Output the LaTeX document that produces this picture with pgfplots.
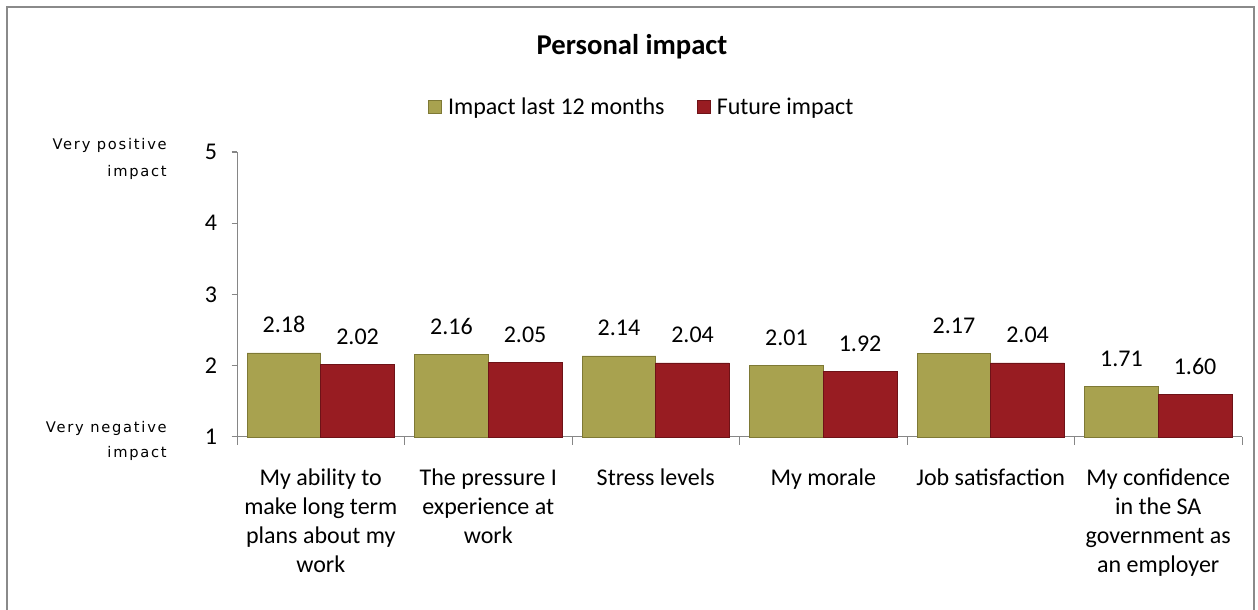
\documentclass[border=0pt]{standalone}
\usepackage{fontspec}
\setmainfont{Carlito}
\newfontfamily\sidefont[LetterSpace=12]{DejaVu Sans}
\usepackage{pgfplots}
\pgfplotsset{compat=1.18}

\definecolor{olivebar}{HTML}{A8A24F}
\definecolor{olivedark}{HTML}{7E7935}
\definecolor{redbar}{HTML}{981C22}
\definecolor{reddark}{HTML}{6E1217}
\definecolor{axisgray}{HTML}{868686}
\definecolor{framegray}{HTML}{8A8A8A}

\begin{document}
\begin{tikzpicture}
% page = 1258 x 610 px at 0.75pt per px
\path[use as bounding box] (0,0) rectangle (943.5pt,457.5pt);
\begin{scope}
\clip (0,0) rectangle (943.5pt,457.5pt);
\draw[framegray, line width=1.5pt] (5.6pt,-3pt) -- (5.6pt,452.6pt) -- (940.5pt,452.6pt) -- (940.5pt,-3pt);
\end{scope}

\node[font=\fontsize{21.5}{25}\selectfont\bfseries] at (474pt,422.25pt) {Personal impact};

\begin{scope}[font=\sidefont\fontsize{11}{13}\selectfont, inner sep=0pt]
\node[anchor=base east] at (125.25pt,345pt) {Very positive};
\node[anchor=base east] at (125.25pt,324.75pt) {impact};
\node[anchor=base east] at (125.25pt,132.75pt) {Very negative};
\node[anchor=base east] at (125.25pt,114pt) {impact};
\end{scope}

\begin{axis}[
  at={(177.75pt,129.75pt)}, anchor=south west,
  scale only axis,
  width=753.75pt, height=213.75pt,
  ybar=0pt,
  bar width=0.44,
  xmin=-0.5, xmax=5.5,
  ymin=1, ymax=5,
  ytick={1,2,3,4,5},
  xtick={0,1,2,3,4,5},
  xticklabels={
    {My ability to\\make long term\\plans about my\\work},
    {The pressure I\\experience at\\work},
    {Stress levels},
    {My morale},
    {Job satisfaction},
    {My confidence\\in the SA\\government as\\an employer}},
  minor xtick={-0.5,0.5,...,5.5},
  major x tick style={draw=none},
  minor x tick style={axisgray, line width=0.75pt},
  minor tick length=6pt,
  major tick length=4pt,
  y tick style={axisgray, line width=0.75pt},
  tick align=outside,
  axis x line*=bottom,
  axis y line*=left,
  axis line style={axisgray, line width=0.75pt, -},
  xticklabel style={font=\fontsize{18}{21.75}\selectfont, align=center, anchor=north, yshift=-16pt},
  yticklabel style={font=\fontsize{18}{21}\selectfont, xshift=-7.5pt},
  /pgf/number format/assume math mode=true,
  nodes near coords,
  nodes near coords style={font=\fontsize{18}{21}\selectfont, anchor=base, yshift=15pt,
    /pgf/number format/.cd, fixed, fixed zerofill, precision=2},
  legend columns=2,
  legend style={at={(0.403,1.158)}, anchor=center, draw=none, fill=none,
    font=\fontsize{18}{21}\selectfont, inner sep=0pt,
    /tikz/every odd column/.append style={column sep=3pt},
    /tikz/every even column/.append style={column sep=22pt}},
  clip=false,
]
\addplot[fill=olivebar, draw=olivedark, line width=0.4pt,
  legend image code/.code={\fill[olivebar, draw=olivedark] (0pt,-4.9pt) rectangle (9.75pt,4.9pt);}]
  coordinates {(0,2.18) (1,2.16) (2,2.14) (3,2.01) (4,2.17) (5,1.71)};
\addlegendentry{Impact last 12 months}
\addplot[fill=redbar, draw=reddark, line width=0.4pt,
  legend image code/.code={\fill[redbar, draw=reddark] (0pt,-4.9pt) rectangle (9.75pt,4.9pt);}]
  coordinates {(0,2.02) (1,2.05) (2,2.04) (3,1.92) (4,2.04) (5,1.60)};
\addlegendentry{Future impact}
\end{axis}
\end{tikzpicture}
\end{document}
